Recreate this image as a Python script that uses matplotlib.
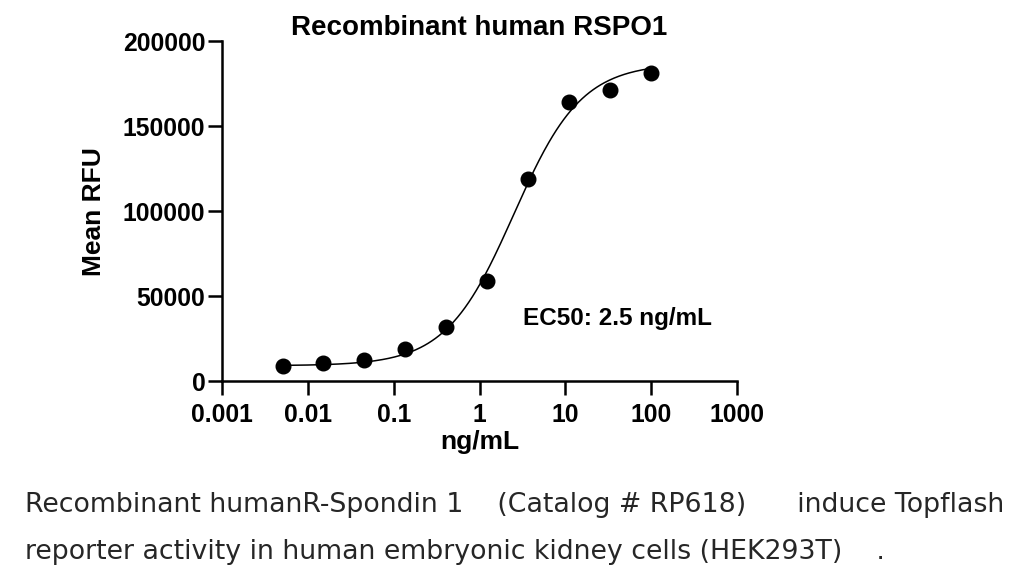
import numpy as np
import matplotlib
matplotlib.use('Agg')
import matplotlib.pyplot as plt

# Nong do (ng/mL) va gia tri Mean RFU doc tu hinh
conc = [0.00508, 0.0152, 0.0457, 0.137, 0.412, 1.23, 3.70, 11.1, 33.3, 100.0]
rfu = [9000, 10600, 12200, 18600, 31800, 58800, 118800, 164300, 171200, 181400]

# Tham so duong fit 4PL
bottom_fit = 9000
top_fit = 187000
ec50 = 2.5
hill = 1.1

x_ticks = [0.001, 0.01, 0.1, 1, 10, 100, 1000]
x_labels = ['0.001', '0.01', '0.1', '1', '10', '100', '1000']
y_ticks = [0, 50000, 100000, 150000, 200000]

plt.rcParams['font.family'] = ['Liberation Sans', 'DejaVu Sans']

fig = plt.figure(figsize=(10.24, 5.85), dpi=100)
ax = fig.add_axes([0.2168, 0.3487, 0.503, 0.581])

xs = np.logspace(np.log10(conc[0]), np.log10(conc[-1]), 300)
ys = bottom_fit + (top_fit - bottom_fit) / (1 + (ec50 / xs) ** hill)
ax.plot(xs, ys, color='black', lw=1.1)
ax.plot(conc, rfu, 'o', color='black', markersize=10.5)

ax.set_xscale('log')
ax.set_xlim(0.001, 1000)
ax.set_ylim(0, 200000)
ax.set_xticks(x_ticks)
ax.set_xticklabels(x_labels)
ax.minorticks_off()
ax.set_yticks(y_ticks)

for s in ['top', 'right']:
    ax.spines[s].set_visible(False)
for s in ['left', 'bottom']:
    ax.spines[s].set_linewidth(1.8)
ax.tick_params(width=1.8, length=10, labelsize=17.8)
ax.tick_params(axis='x', pad=6)
ax.tick_params(axis='y', pad=2)
for lab in ax.get_xticklabels() + ax.get_yticklabels():
    lab.set_fontweight('bold')

ax.set_title('Recombinant human RSPO1', fontsize=20, fontweight='bold', pad=4)
ax.set_xlabel('ng/mL', fontsize=19, fontweight='bold', labelpad=2)
ax.set_ylabel('Mean RFU', fontsize=19, fontweight='bold', labelpad=12)
ax.text(3.2, 37000, 'EC50: 2.5 ng/mL', fontsize=17.5, fontweight='bold',
        ha='left', va='center')

fig.text(0.024, 1 - 505 / 585,
         'Recombinant humanR-Spondin 1    (Catalog # RP618)      induce Topflash',
         fontsize=19.3, family='DejaVu Sans', color='#262626', va='center')
fig.text(0.024, 1 - 552 / 585,
         'reporter activity in human embryonic kidney cells (HEK293T)    .',
         fontsize=19.3, family='DejaVu Sans', color='#262626', va='center')

fig.savefig('out.png', dpi=100)
